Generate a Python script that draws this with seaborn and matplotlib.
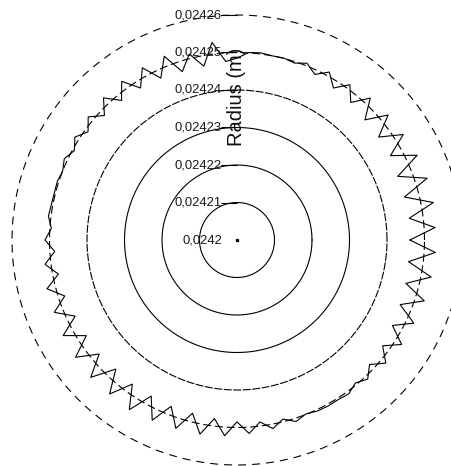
import numpy as np
import pandas as pd
import matplotlib
matplotlib.use("Agg")
import matplotlib.pyplot as plt
from matplotlib.transforms import offset_copy
import seaborn as sns

sns.set_style("white")
plt.rcParams["font.family"] = ["Liberation Sans", "DejaVu Sans"]
plt.rcParams["lines.scale_dashes"] = False

# Measured radius around the circumference, one sample every 3.6 degrees
angle_deg = np.linspace(0.0, 360.0, 100, endpoint=False)
radius_m = [
    0.0242461, 0.0242529, 0.0242463, 0.0242533, 0.0242461, 0.0242533, 0.0242461, 0.0242531, 0.0242467, 0.0242525,
    0.0242467, 0.0242523, 0.0242468, 0.0242519, 0.0242476, 0.0242512, 0.0242480, 0.0242511, 0.0242488, 0.0242507,
    0.0242496, 0.0242501, 0.0242500, 0.0242503, 0.0242501, 0.0242485, 0.0242477, 0.0242531, 0.0242472, 0.0242512,
    0.0242472, 0.0242527, 0.0242477, 0.0242524, 0.0242480, 0.0242523, 0.0242483, 0.0242520, 0.0242485, 0.0242515,
    0.0242491, 0.0242512, 0.0242495, 0.0242509, 0.0242500, 0.0242504, 0.0242503, 0.0242504, 0.0242507, 0.0242496,
    0.0242512, 0.0242487, 0.0242516, 0.0242485, 0.0242523, 0.0242483, 0.0242524, 0.0242477, 0.0242529, 0.0242476,
    0.0242532, 0.0242477, 0.0242535, 0.0242472, 0.0242533, 0.0242475, 0.0242536, 0.0242475, 0.0242531, 0.0242477,
    0.0242528, 0.0242477, 0.0242527, 0.0242480, 0.0242523, 0.0242485, 0.0242517, 0.0242489, 0.0242512, 0.0242493,
    0.0242509, 0.0242499, 0.0242504, 0.0242505, 0.0242504, 0.0242507, 0.0242495, 0.0242509, 0.0242485, 0.0242515,
    0.0242480, 0.0242520, 0.0242473, 0.0242521, 0.0242468, 0.0242525, 0.0242465, 0.0242527, 0.0242461, 0.0242530,
]

radial_ticks = [0.02420, 0.02421, 0.02422, 0.02423, 0.02424, 0.02425, 0.02426]
radial_labels = ["0,0242", "0,02421", "0,02422", "0,02423", "0,02424", "0,02425", "0,02426"]
axis_title = "Radius (m)"

# closed outline
theta = np.deg2rad(np.append(angle_deg, angle_deg[0] + 360.0))
radius = np.append(radius_m, radius_m[0])
df = pd.DataFrame({"theta": theta, "radius": radius})

W, H = 452, 466
fig = plt.figure(figsize=(W / 100, H / 100), dpi=100)
ax = fig.add_axes([12 / W, 1 / H, 450 / W, 450 / H], projection="polar")
ax.set_ylim(radial_ticks[0], radial_ticks[-1])
ax.grid(False)
ax.set_xticks([])
ax.set_yticks([])
ax.spines["polar"].set_visible(False)
ax.patch.set_alpha(0)

# concentric grid circles: inner ones solid, outer ones broken into dashes
ring = np.linspace(0, 2 * np.pi, 721)
px = 0.72  # points per pixel
ring_dashes = [None, None, None, None, (8 * px, 1.5 * px), (8 * px, 3.8 * px), (8 * px, 6 * px)]
for r, d in zip(radial_ticks[1:], ring_dashes[1:]):
    ln, = ax.plot(ring, np.full_like(ring, r), color="black", lw=0.8, clip_on=False)
    if d is not None:
        ln.set_dashes(d)

sns.lineplot(data=df, x="theta", y="radius", sort=False, estimator=None,
             color="black", lw=0.8, ax=ax)
ax.set_xlabel("")
ax.set_ylabel("")

# radial axis ticks and labels along the upward direction
tick_tr = offset_copy(ax.transData, fig=fig, x=-8, y=0, units="dots")
ax.plot([np.pi / 2] * (len(radial_ticks) - 1), radial_ticks[1:], marker="_",
        markersize=16 * px, mew=0.8, color="black", linestyle="none",
        transform=tick_tr, clip_on=False)
ax.plot([0], [radial_ticks[0]], marker="s", markersize=1.4, color="black",
        linestyle="none", clip_on=False)
lab_tr = offset_copy(ax.transData, fig=fig, x=-15, y=0, units="dots")
for r, lab in zip(radial_ticks, radial_labels):
    ax.text(np.pi / 2, r, lab, transform=lab_tr, ha="right", va="center",
            fontsize=9.4, color="#1a1a1a", clip_on=False)

fig.text(237 / W, 1 - 97 / H, axis_title, rotation=90, ha="center", va="center",
         fontsize=14.5, color="#111111")

fig.savefig("out.png", dpi=100)
